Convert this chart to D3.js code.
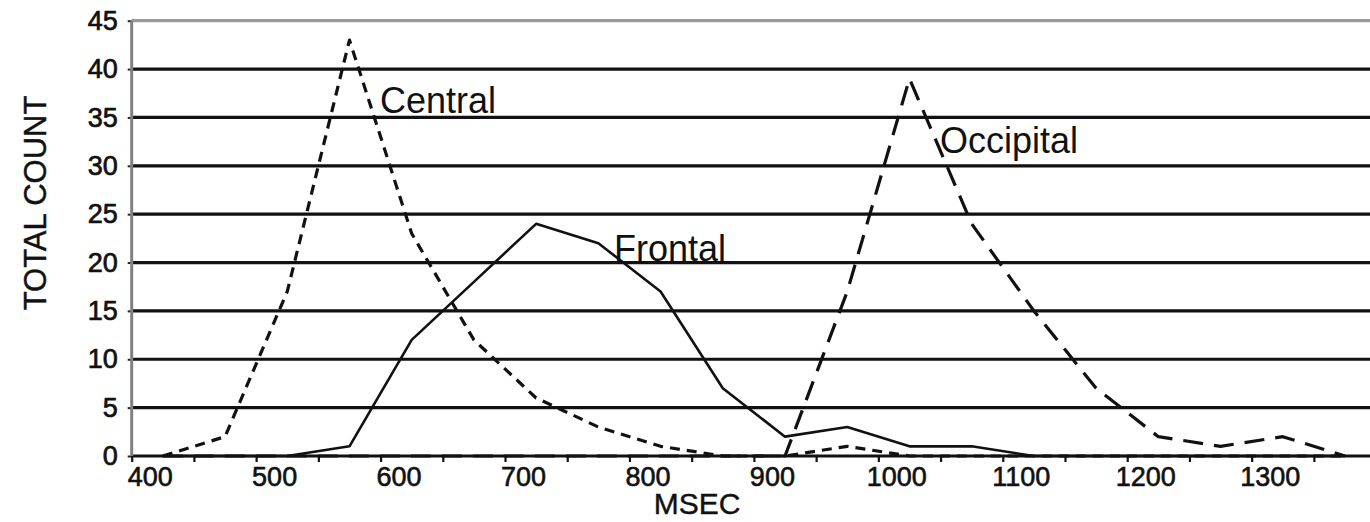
<!DOCTYPE html>
<html>
<head>
<meta charset="utf-8">
<script src="https://cdn.jsdelivr.net/npm/d3@7/dist/d3.min.js"></script>
<style>
  html, body { margin: 0; padding: 0; background: #fff; }
  svg { display: block; }
  text { font-family: "Liberation Sans", Arial, sans-serif; }
</style>
</head>
<body>
<svg id="chart" width="1370" height="522"></svg>
<script>
// ---- data ----
const msec = [425, 475, 525, 575, 625, 675, 725, 775, 825, 875, 925, 975, 1025, 1075, 1125, 1175, 1225, 1275, 1325, 1375];
const central = [0, 2, 17, 43, 23, 12, 6, 3, 1, 0, 0, 1, 0, 0, 0, 0, 0, 0, 0, 0];
const frontal = [0, 0, 0, 1, 12, 18, 24, 22, 17, 7, 2, 3, 1, 1, 0, 0, 0, 0, 0, 0];
const occipital = [0, 0, 0, 0, 0, 0, 0, 0, 0, 0, 0, 17, 39, 24, 15, 7, 2, 1, 2, 0];
const xLabelTicks = [400, 500, 600, 700, 800, 900, 1000, 1100, 1200, 1300];
const xMinorTicks = [400, 450, 500, 550, 600, 650, 700, 750, 800, 850, 900, 950, 1000, 1050, 1100, 1150, 1200, 1250, 1300, 1350];
const yTicks = [0, 5, 10, 15, 20, 25, 30, 35, 40, 45];
const seriesNames = ["Central", "Frontal", "Occipital"];

const svg = d3.select("#chart");
const x = d3.scaleLinear().domain([400, 1400]).range([131.7, 1376.1]);
const y = d3.scaleLinear().domain([0, 45]).range([456, 20.7]);

// y labels + small ticks
const yAxis = svg.append("g")
  .attr("transform", `translate(${x(400)},0)`)
  .call(d3.axisLeft(y).tickValues(yTicks).tickSize(4).tickPadding(10).tickFormat(d3.format("d")));
yAxis.select(".domain").remove();
yAxis.selectAll(".tick line").attr("stroke", "#222").attr("stroke-width", 2);
yAxis.selectAll(".tick text")
  .attr("font-size", 27).attr("fill", "#111")
  .attr("font-family", "Liberation Sans, Arial, sans-serif")
  .attr("stroke", "#111").attr("stroke-width", 0.7);

// horizontal gridlines
const grid = svg.append("g");
grid.selectAll("line").data(yTicks).join("line")
  .attr("x1", x(400)).attr("x2", 1372)
  .attr("y1", d => y(d)).attr("y2", d => y(d))
  .attr("stroke", d => d === 45 ? "#9a9a9a" : "#111")
  .attr("stroke-width", 3.2);

// left axis line
svg.append("line")
  .attr("x1", x(400)).attr("x2", x(400))
  .attr("y1", y(45)).attr("y2", y(0))
  .attr("stroke", "#808080").attr("stroke-width", 3);

// x minor ticks
const xTickAxis = svg.append("g")
  .attr("transform", `translate(0,${y(0)})`)
  .call(d3.axisBottom(x).tickValues(xMinorTicks).tickSize(6).tickFormat(""));
xTickAxis.select(".domain").remove();
xTickAxis.selectAll(".tick line").attr("stroke", "#111").attr("stroke-width", 2.2);

// x labels
const xLabAxis = svg.append("g")
  .attr("transform", `translate(0,${y(0)})`)
  .call(d3.axisBottom(x).tickValues(xLabelTicks).tickSize(0).tickPadding(10.5).tickFormat(d3.format("d")));
xLabAxis.select(".domain").remove();
xLabAxis.selectAll(".tick text")
  .attr("font-size", 27).attr("fill", "#111").attr("dx", 18)
  .attr("font-family", "Liberation Sans, Arial, sans-serif")
  .attr("stroke", "#111").attr("stroke-width", 0.6);

// series lines
const line = d3.line().x((d, i) => x(msec[i])).y(d => y(d));
function drawSeries(vals, dash, width) {
  svg.append("path")
    .datum(vals)
    .attr("d", line)
    .attr("fill", "none")
    .attr("stroke", "#111")
    .attr("stroke-width", width)
    .attr("stroke-linejoin", "round")
    .attr("stroke-dasharray", dash);
}
drawSeries(occipital, "20,11", 3.2);
drawSeries(central, "10,7", 3.2);
drawSeries(frontal, null, 2.6);

// series labels
svg.append("text").attr("x", 380).attr("y", 113).attr("font-size", 36).attr("fill", "#111").text(seriesNames[0]);
svg.append("text").attr("x", 614).attr("y", 261).attr("font-size", 36).attr("fill", "#111").text(seriesNames[1]);
svg.append("text").attr("x", 940).attr("y", 153).attr("font-size", 36).attr("fill", "#111").text(seriesNames[2]);

// axis titles
svg.append("text")
  .attr("transform", "translate(46,203) rotate(-90)")
  .attr("text-anchor", "middle")
  .attr("font-size", 31).attr("fill", "#111")
  .attr("stroke", "#111").attr("stroke-width", 0.4)
  .text("TOTAL COUNT");
svg.append("text")
  .attr("x", 697).attr("y", 514)
  .attr("text-anchor", "middle")
  .attr("font-size", 30).attr("fill", "#111")
  .attr("stroke", "#111").attr("stroke-width", 0.4)
  .text("MSEC");
</script>
</body>
</html>
